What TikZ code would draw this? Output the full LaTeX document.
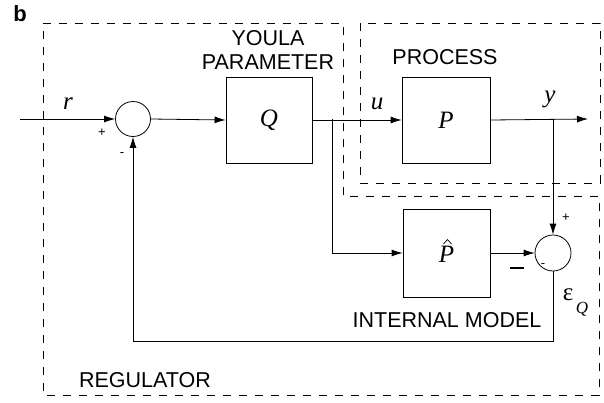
\documentclass[tikz,border=0pt]{standalone}
\usepackage{fontspec}
\setmainfont{Liberation Serif}
\setsansfont{Liberation Sans}
\usetikzlibrary{arrows.meta}
\begin{document}
\begin{tikzpicture}[x=1pt,y=-1pt,
  line width=0.8pt,
  blk/.style={draw, minimum width=86pt, minimum height=86pt, inner sep=0pt, font=\fontsize{25}{27}\selectfont\itshape},
  sumnode/.style={draw, circle, minimum size=35pt, inner sep=0pt},
  dashbox/.style={draw, line width=0.7pt, dash pattern=on 8pt off 8pt},
  lbl/.style={font=\sffamily\fontsize{21.5}{24}\selectfont, inner sep=0pt},
  mth/.style={font=\fontsize{25}{27}\selectfont\itshape, inner sep=0pt},
  sgn/.style={font=\sffamily\fontsize{13}{14}\selectfont, inner sep=0pt},
  arr/.style={-{Latex[length=11pt,width=7pt]}}]
\useasboundingbox (0,0) rectangle (604,402);
% dashed regions
\draw[dashbox] (43,23) -- (343,23) -- (343,196) -- (599,196) -- (599,395) -- (43,395) -- cycle;
\draw[dashbox] (360,23) rectangle (600,183);
% blocks
\node[sumnode] (s1) at (133,119) {};
\node[blk] (q) at (269,120) {Q};
\node[blk, minimum width=88pt] (p) at (446,120) {P};
\node[blk, minimum width=87pt, minimum height=88pt, text depth=0pt] (ph) at (446.5,253) {\raisebox{-3pt}{P}};
\draw[line width=0.7pt] (443.5,244) -- (447.5,239.5) -- (451.5,244);
\node[sumnode, minimum size=36pt] (s2) at (553,253) {};
% coordinates
\coordinate (in) at (20,119);
\coordinate (out) at (588,119);
\coordinate (br) at (332,119);
\coordinate (yb) at (553,119);
\coordinate (fb1) at (553,341);
\coordinate (fb2) at (133,341);
% connectors
\draw[arr] (in) -- (s1.west);
\draw[arr] (s1.east) -- (q.west);
\draw[arr] (q.east) -- (p.west);
\draw[arr] (p.east) -- (out);
\draw[arr] (br) |- (ph.west);
\draw[arr] (ph.east) -- (s2.west);
\draw[arr] (yb) -- (s2.north);
\draw[arr] (s2.south) -- (fb1) -- (fb2) -- (s1.south);
% labels
\node[mth] at (68,104) {r};
\node[sgn] at (102,133) {+};
\node[sgn] at (122,155) {-};
\node[mth] at (377,104) {u};
\node[mth] at (550,99) {y};
\node[sgn] at (566,218) {+};
\draw[line width=1.6pt] (510,268) -- (524,268);
\node[sgn] at (543,266) {-};
\node[font=\fontsize{25}{27}\selectfont, inner sep=0pt] at (568,295) {ε};
\node[mth, font=\fontsize{17}{18}\selectfont\itshape] at (582,309) {Q};
\node[lbl] at (268,38) {YOULA};
\node[lbl] at (268,62) {PARAMETER};
\node[lbl] at (445,57) {PROCESS};
\node[lbl] at (447,320) {INTERNAL MODEL};
\node[lbl] at (145,380) {REGULATOR};
\node[font=\sffamily\bfseries\fontsize{22}{24}\selectfont, inner sep=0pt] at (20,14) {b};
\end{tikzpicture}
\end{document}
